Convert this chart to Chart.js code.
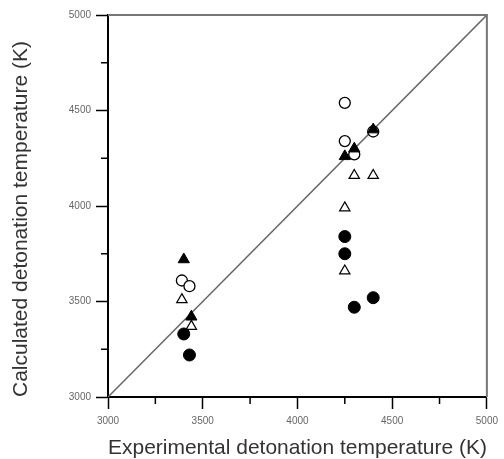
<!DOCTYPE html>
<html>
<head>
<meta charset="utf-8">
<script src="https://cdn.jsdelivr.net/npm/chart.js@4/dist/chart.umd.min.js"></script>
<style>
  body { margin: 0; background: #fff; }
  #wrap { width: 504px; height: 459px; position: relative; }
</style>
</head>
<body>
<div id="wrap"><canvas id="myChart"></canvas></div>
<script>
// experimental (x) vs calculated (y) detonation temperature, K
var filledCircleX = [3400, 3430, 4250, 4250, 4300, 4400];
var filledCircleY = [3330, 3220, 3840, 3750, 3470, 3520];
var openCircleX = [3390, 3430, 4250, 4250, 4300, 4400];
var openCircleY = [3610, 3580, 4540, 4340, 4270, 4390];
var filledTriX = [3400, 3440, 4250, 4300, 4400];
var filledTriY = [3720, 3420, 4260, 4300, 4400];
var openTriX = [3390, 3440, 4300, 4400, 4250, 4250];
var openTriY = [3510, 3370, 4160, 4160, 3990, 3660];
var diagX = [3000, 5000];
var diagY = [3000, 5000];
var majorTicks = [3000, 3500, 4000, 4500, 5000];
var minorTicks = [3250, 3750, 4250, 4750];

function pts(xs, ys) {
    var out = [];
    for (var i = 0; i < xs.length; i++) {
        out.push({x: xs[i], y: ys[i]});
    }
    return out;
}

// grey frame on top/right and short minor ticks
var framePlugin = {
    id: 'frame',
    afterDraw: function(chart) {
        var ctx = chart.ctx;
        var a = chart.chartArea;
        var xs = chart.scales.x, ys = chart.scales.y;
        ctx.save();
        ctx.strokeStyle = '#777';
        ctx.lineWidth = 2;
        ctx.beginPath();
        ctx.moveTo(a.left, a.top);
        ctx.lineTo(a.right, a.top);
        ctx.lineTo(a.right, a.bottom);
        ctx.stroke();
        ctx.strokeStyle = '#000';
        ctx.lineWidth = 1.5;
        ctx.beginPath();
        for (var i = 0; i < minorTicks.length; i++) {
            var px = xs.getPixelForValue(minorTicks[i]);
            ctx.moveTo(px, a.bottom);
            ctx.lineTo(px, a.bottom + 7);
            var py = ys.getPixelForValue(minorTicks[i]);
            ctx.moveTo(a.left, py);
            ctx.lineTo(a.left - 7, py);
        }
        ctx.stroke();
        ctx.restore();
    }
};

var ctx = document.getElementById('myChart').getContext('2d');
Chart.defaults.font.family = "'Liberation Sans', Arial, sans-serif";

var chart = new Chart(ctx, {
    type: 'scatter',
    data: {
        datasets: [{
            data: pts(filledTriX, filledTriY),
            pointStyle: 'triangle',
            pointRadius: 6.5,
            backgroundColor: '#000',
            borderColor: '#000',
            borderWidth: 1
        }, {
            data: pts(filledCircleX, filledCircleY),
            pointStyle: 'circle',
            pointRadius: 6,
            backgroundColor: '#000',
            borderColor: '#000',
            borderWidth: 1
        }, {
            data: pts(openCircleX, openCircleY),
            pointStyle: 'circle',
            pointRadius: 5.5,
            backgroundColor: '#fff',
            borderColor: '#000',
            borderWidth: 1.3
        }, {
            data: pts(openTriX, openTriY),
            pointStyle: 'triangle',
            pointRadius: 6,
            backgroundColor: '#fff',
            borderColor: '#000',
            borderWidth: 1.2
        }, {
            type: 'line',
            data: pts(diagX, diagY),
            borderColor: '#666',
            borderWidth: 1.5,
            pointRadius: 0,
            fill: false,
            order: 1
        }]
    },
    options: {
        responsive: true,
        maintainAspectRatio: false,
        animation: false,
        layout: {
            padding: {left: 0, right: 14, top: 15, bottom: 0}
        },
        plugins: {
            legend: {display: false},
            tooltip: {enabled: false}
        },
        scales: {
            x: {
                type: 'linear',
                min: 3000,
                max: 5000,
                afterBuildTicks: function(axis) {
                    axis.ticks = majorTicks.map(function(v) { return {value: v}; });
                },
                afterFit: function(axis) { axis.height = 62; },
                border: {display: true, color: '#000', width: 2},
                grid: {drawOnChartArea: false, drawTicks: true, tickLength: 12, tickWidth: 1.5, tickColor: '#000'},
                ticks: {
                    font: {size: 10},
                    color: '#666',
                    padding: 6,
                    maxRotation: 0,
                    callback: function(v) { return String(v); }
                },
                title: {
                    display: true,
                    text: 'Experimental detonation temperature (K)',
                    font: {size: 21, lineHeight: 1},
                    color: '#333',
                    padding: {top: 0, bottom: 0}
                }
            },
            y: {
                type: 'linear',
                min: 3000,
                max: 5000,
                afterBuildTicks: function(axis) {
                    axis.ticks = majorTicks.map(function(v) { return {value: v}; });
                },
                afterFit: function(axis) { axis.width = 108; },
                border: {display: true, color: '#000', width: 2},
                grid: {drawOnChartArea: false, drawTicks: true, tickLength: 12, tickWidth: 1.5, tickColor: '#000'},
                ticks: {
                    font: {size: 10},
                    color: '#666',
                    padding: 5,
                    callback: function(v) { return String(v); }
                },
                title: {
                    display: true,
                    text: 'Calculated detonation temperature (K)',
                    align: 'start',
                    font: {size: 21, lineHeight: 1},
                    color: '#333',
                    padding: {top: 11, bottom: 0}
                }
            }
        }
    },
    plugins: [framePlugin]
});
</script>
</body>
</html>
